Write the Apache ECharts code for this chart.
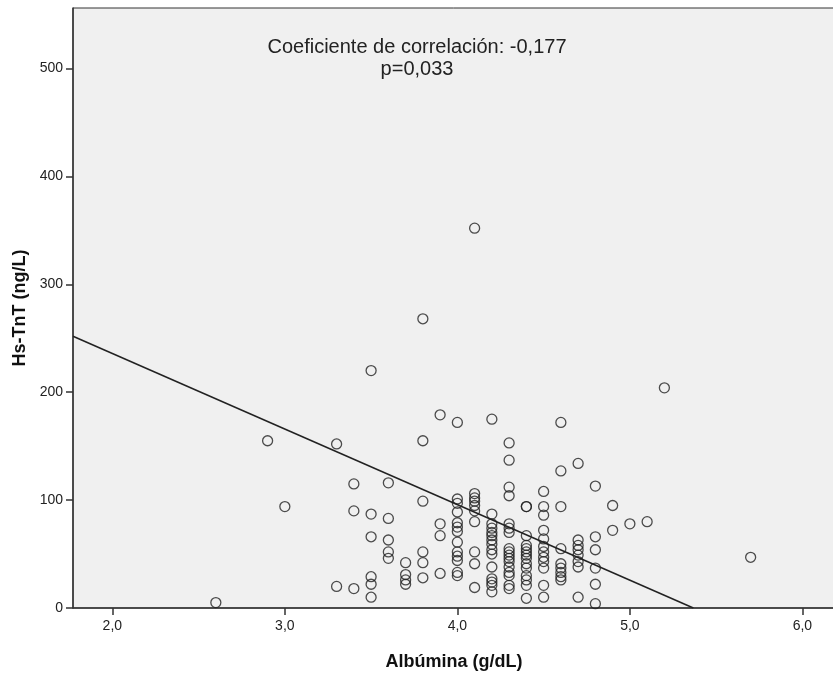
<!DOCTYPE html>
<html>
<head>
<meta charset="utf-8">
<script src="https://cdn.jsdelivr.net/npm/echarts@6/dist/echarts.min.js"></script>
<style>
  html, body { margin: 0; padding: 0; background: #fff; }
  #chart { width: 833px; height: 677px; }
</style>
</head>
<body>
<div id="chart"></div>
<script>
// Albúmina values (g/dL), one entry per column of points
const albuminLevels = [2.6, 2.9, 3.0, 3.3, 3.4, 3.5, 3.6, 3.7, 3.8, 3.9, 4.0, 4.1, 4.2, 4.3, 4.4, 4.5, 4.6, 4.7, 4.8, 4.9, 5.0, 5.1, 5.2, 5.7];

// Hs-TnT values (ng/L) read for each albúmina column
const tntByLevel = [
  [5],
  [155],
  [94],
  [152, 20],
  [115, 90, 18],
  [220, 87, 66, 29, 22, 10],
  [116, 83, 63, 52, 46],
  [42, 31, 26, 22],
  [268, 155, 99, 52, 42, 28],
  [179, 78, 67, 32],
  [172, 101, 97, 89, 79, 75, 71, 61, 52, 48, 44, 33, 30],
  [352, 106, 102, 99, 95, 90, 80, 52, 41, 19],
  [175, 87, 78, 74, 70, 67, 63, 59, 54, 50, 38, 27, 24, 21, 15],
  [153, 137, 112, 104, 78, 74, 70, 55, 52, 49, 46, 43, 38, 33, 30, 21, 18],
  [94, 94, 67, 58, 55, 52, 49, 46, 41, 37, 30, 26, 21, 9],
  [108, 94, 86, 72, 64, 57, 52, 47, 43, 37, 21, 10],
  [172, 127, 94, 55, 41, 37, 33, 29, 26],
  [134, 63, 58, 54, 49, 43, 38, 10],
  [113, 66, 54, 37, 22, 4],
  [95, 72],
  [78],
  [80],
  [204],
  [47],
];

// Linear fit line ends (clipped at y = 0)
const fitX = [1.772, 5.368];
const fitY = [251.8, 0];

const xTicks = [2, 3, 4, 5, 6];

const points = [];
albuminLevels.forEach((x, i) => {
  tntByLevel[i].forEach((y) => points.push([x, y]));
});

const chart = echarts.init(document.getElementById("chart"));

const option = {
  animation: false,
  backgroundColor: "#ffffff",
  grid: {
    left: 73,
    right: -2,
    top: 8,
    bottom: 69,
    show: true,
    backgroundColor: "#f0f0f0",
    borderColor: "#333",
    borderWidth: 1,
    containLabel: false,
    outerBoundsMode: "none",
  },
  graphic: [
    {
      type: "text",
      x: 417,
      y: 36,
      style: {
        text: "Coeficiente de correlación: -0,177\np=0,033",
        font: '20px "Liberation Sans", Arial, sans-serif',
        fill: "#222",
        textAlign: "center",
        lineHeight: 22,
      },
    },
  ],
  xAxis: {
    type: "value",
    min: 1.772,
    max: 6.189,
    name: "Albúmina (g/dL)",
    nameLocation: "middle",
    nameGap: 45,
    nameTextStyle: {
      fontFamily: '"Liberation Sans", Arial, sans-serif',
      fontWeight: "bold",
      fontSize: 18,
      color: "#111",
    },
    axisLine: { show: true, lineStyle: { color: "#333", width: 1.5 } },
    axisTick: {
      show: true,
      inside: false,
      length: 7,
      customValues: xTicks,
      lineStyle: { color: "#333", width: 1.5 },
    },
    axisLabel: {
      customValues: xTicks,
      margin: 11,
      fontFamily: '"Liberation Sans", Arial, sans-serif',
      fontSize: 14,
      color: "#222",
      formatter: (v) => v.toFixed(1).replace(".", ","),
    },
    splitLine: { show: false },
  },
  yAxis: {
    type: "value",
    min: 0,
    max: 556,
    interval: 100,
    name: "Hs-TnT (ng/L)",
    nameLocation: "middle",
    nameGap: 43,
    nameTextStyle: {
      fontFamily: '"Liberation Sans", Arial, sans-serif',
      fontWeight: "bold",
      fontSize: 18,
      color: "#111",
    },
    axisLine: { show: true, lineStyle: { color: "#333", width: 1.5 } },
    axisTick: {
      show: true,
      inside: false,
      length: 7,
      lineStyle: { color: "#333", width: 1.5 },
    },
    axisLabel: {
      margin: 10,
      fontFamily: '"Liberation Sans", Arial, sans-serif',
      fontSize: 14,
      color: "#222",
      showMaxLabel: false,
    },
    splitLine: { show: false },
  },
  series: [
    {
      name: "Puntos",
      type: "scatter",
      data: points,
      symbol: "circle",
      symbolSize: 10,
      itemStyle: {
        color: "rgba(0,0,0,0)",
        borderColor: "#222",
        borderWidth: 1.3,
      },
      z: 3,
    },
    {
      name: "Ajuste",
      type: "line",
      data: fitX.map((x, i) => [x, fitY[i]]),
      symbol: "none",
      lineStyle: { color: "#222", width: 1.5 },
      z: 2,
    },
  ],
};

chart.setOption(option);
</script>
</body>
</html>
